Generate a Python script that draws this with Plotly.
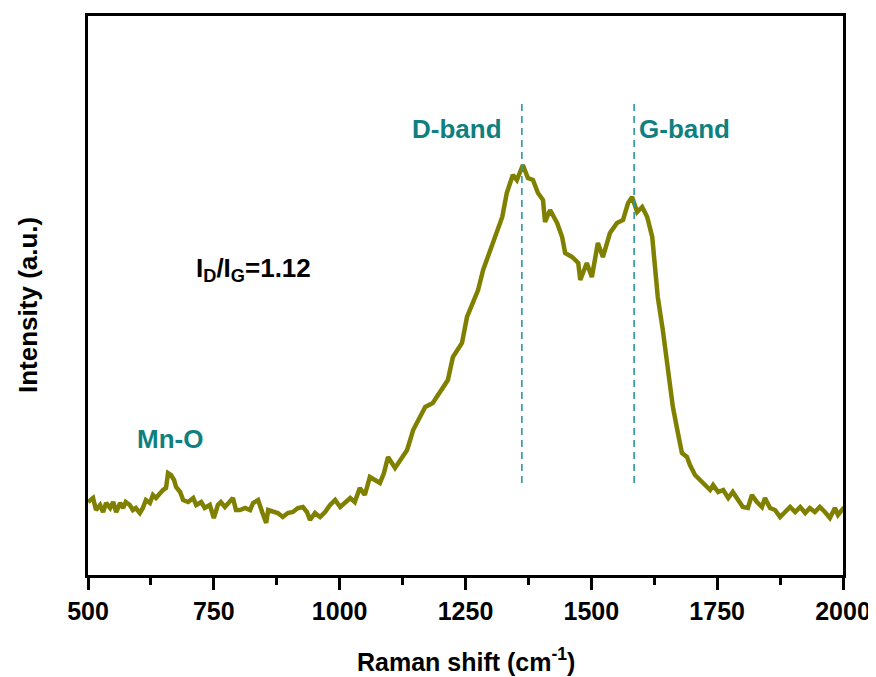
import plotly.graph_objects as go

# Raman spectrum (wavenumber cm-1, intensity a.u.)
raman_shift = [500, 510, 516, 524, 530, 536, 544, 550, 556, 564, 570, 575, 583, 589, 595,
               603, 609, 615, 623, 629, 635, 643, 649, 655, 659, 665, 671, 675, 683, 689,
               699, 709, 715, 725, 732, 742, 750, 758, 764, 772, 778, 788, 794,
               802, 812, 822, 828, 838, 846, 854, 858, 868, 877, 887, 897, 907, 917, 927,
               935, 941, 951, 961, 971, 981, 991, 1001, 1011, 1021, 1030, 1040, 1050, 1060,
               1070, 1080, 1088,
               1096, 1110, 1134, 1146, 1170, 1185, 1199, 1215, 1225, 1243, 1253, 1265, 1275,
               1285, 1299, 1313, 1323, 1332, 1344, 1352, 1364, 1374, 1384, 1394, 1404, 1408,
               1418, 1432, 1442, 1448, 1462, 1474, 1478, 1491, 1501, 1513, 1523, 1537, 1551,
               1563, 1573, 1581, 1591, 1601, 1611, 1621, 1627, 1632, 1642, 1652, 1662, 1672,
               1680, 1690,
               1696, 1706, 1716, 1726, 1736, 1742, 1752, 1762, 1772, 1781, 1791, 1801, 1811,
               1819, 1829, 1839, 1845, 1855, 1865, 1875, 1885, 1895, 1905, 1915, 1925, 1934,
               1944, 1954, 1964, 1974, 1984, 1990, 1998, 2000]
intensity = [73, 77, 65, 70, 63, 72, 67, 73, 63, 72, 67, 73, 70, 65, 67,
             62, 67, 75, 72, 80, 77, 82, 85, 87, 102, 100, 95, 88, 83, 75,
             73, 77, 70, 73, 67, 70, 57, 70, 73, 68, 72, 77, 65,
             65, 67, 65, 72, 75, 63, 52, 65, 63, 62, 58, 62, 63, 67, 68,
             63, 55, 62, 58, 63, 70, 75, 68, 73, 77, 73, 87, 80, 98,
             95, 92, 102,
             118, 107, 125, 145, 168, 172, 182, 195, 218, 232, 258, 272, 285,
             305, 325, 342, 358, 382, 400, 395, 410, 397, 395, 382, 375, 353,
             365, 352, 338, 322, 318, 312, 295, 312, 298, 332, 318, 342, 352,
             355, 372, 378, 363, 368, 358, 338, 302, 278, 245, 208, 168, 142,
             122, 118,
             110, 100, 95, 90, 85, 90, 83, 85, 77, 83, 75, 68, 67,
             80, 73, 68, 77, 67, 65, 58, 63, 68, 63, 68, 62, 67,
             63, 68, 63, 57, 67, 60, 65, 63]

band_positions = [1362, 1585]
band_labels = ["D-band", "G-band"]
xticks = [500, 750, 1000, 1250, 1500, 1750, 2000]
minor_xticks = [625, 875, 1125, 1375, 1625, 1875]

FONT = "Arial, 'Liberation Sans', sans-serif"
TEAL = "#0f7f80"
DASH = "#2a9a9c"

fig = go.Figure()
fig.add_trace(go.Scatter(x=raman_shift, y=intensity, mode="lines",
                         line=dict(color="#808000", width=4.5), showlegend=False))

for xp in band_positions:
    fig.add_shape(type="line", x0=xp, x1=xp, y0=92, y1=475, xref="x", yref="y",
                  line=dict(color=DASH, width=1.6, dash="7px,5px"))

fig.add_annotation(x=1233, y=446, text="<b>" + band_labels[0] + "</b>", showarrow=False,
                   font=dict(family=FONT, size=26, color=TEAL))
fig.add_annotation(x=1686, y=446, text="<b>" + band_labels[1] + "</b>", showarrow=False,
                   font=dict(family=FONT, size=26, color=TEAL))
fig.add_annotation(x=663, y=136, text="<b>Mn-O</b>", showarrow=False,
                   font=dict(family=FONT, size=26, color=TEAL))
fig.add_annotation(x=711, y=306, xanchor="left", showarrow=False,
                   text="<b>I<sub>D</sub>/I<sub>G</sub>=1.12</b>",
                   font=dict(family=FONT, size=26, color="black"))

# axis titles as paper annotations
fig.add_annotation(xref="paper", yref="paper", x=0.5, y=-0.152, yanchor="middle",
                   text="<b>Raman shift (cm<sup>-1</sup>)</b>", showarrow=False,
                   font=dict(family=FONT, size=25, color="black"))
fig.add_annotation(xref="paper", yref="paper", x=-0.0795, y=0.483, xanchor="center",
                   yanchor="middle", textangle=-90,
                   text="<b>Intensity (a.u.)</b>", showarrow=False,
                   font=dict(family=FONT, size=26, color="black"))

fig.update_xaxes(range=[500, 2000], tickvals=xticks, ticks="outside", ticklen=12,
                 tickwidth=3, tickcolor="black", showline=True, linewidth=3,
                 linecolor="black", mirror=True, showgrid=False, zeroline=False,
                 automargin=False,
                 tickfont=dict(family=FONT, size=25, color="black", weight="bold"),
                 minor=dict(tickvals=minor_xticks, ticks="outside",
                            ticklen=7, tickwidth=3, tickcolor="black"))
fig.update_yaxes(range=[0, 559], showticklabels=False, ticks="", showline=True,
                 linewidth=3, linecolor="black", mirror=True, showgrid=False,
                 zeroline=False, automargin=False)

# page body adds an 8px offset, so the figure is sized to compensate
fig.update_layout(width=868, height=669, margin=dict(l=80, r=33, t=8, b=102),
                  paper_bgcolor="white", plot_bgcolor="white")
fig.write_html("out.html")
